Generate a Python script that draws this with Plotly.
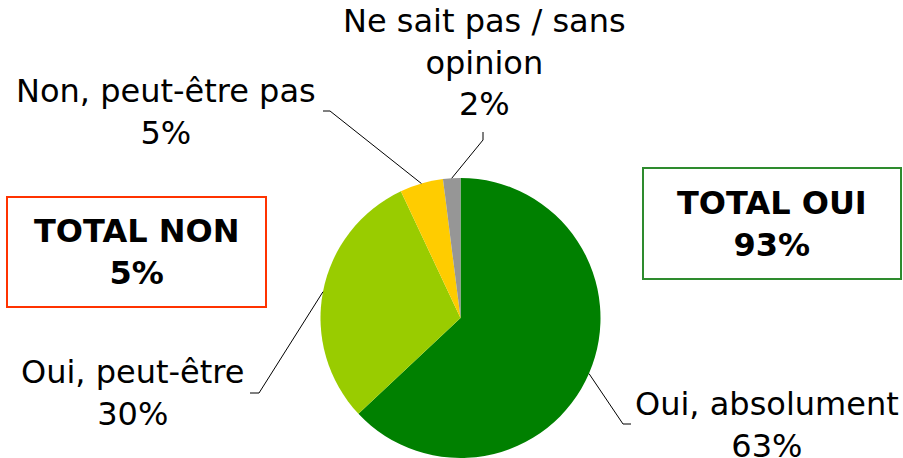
import math
import plotly.graph_objects as go

# ---- data ----
categories = ["Oui, absolument", "Oui, peut-être", "Non, peut-être pas", "Ne sait pas / sans<br>opinion"]
values = [63, 30, 5, 2]
colors = ["#008000", "#99CC00", "#FFCC00", "#969696"]
total_oui = "TOTAL OUI<br>93%"
total_non = "TOTAL NON<br>5%"

# ---- layout (pixels) ----
W, H = 903, 458
CX, CY, R = 460.5, 318.0, 140.0
FONT = "DejaVu Sans, Verdana, sans-serif"
FS = 32

def px(x):
    return x / W

def py(y):
    return 1 - y / H

# label layout: (elbow x, elbow y, end x, end y, text center x, text center y)
label_layout = [
    (623, 424, 631, 424, 767, 425),
    (259, 393, 250, 393, 132, 393),
    (330, 111, 323, 111, 166, 112),
    (483, 140, 483, 132, 484, 63),
]

fig = go.Figure()
fig.add_trace(go.Pie(
    labels=categories,
    values=values,
    marker=dict(colors=colors, line=dict(width=0)),
    sort=False,
    direction="clockwise",
    rotation=0,
    textinfo="none",
    hoverinfo="label+percent",
    showlegend=False,
    domain=dict(x=[px(CX - R), px(CX + R)], y=[py(CY + R), py(CY - R)]),
))

shapes = []
annotations = []
total = sum(values)
cum = 0
for cat, v, lay in zip(categories, values, label_layout):
    mid = (cum + v / 2) / total * 2 * math.pi
    cum += v
    sx = CX + R * math.sin(mid)
    sy = CY - R * math.cos(mid)
    ex, ey, tx, ty, lx, ly = lay
    path = f"M {px(sx)},{py(sy)} L {px(ex)},{py(ey)} L {px(tx)},{py(ty)}"
    shapes.append(dict(type="path", xref="paper", yref="paper", path=path,
                       line=dict(color="#000000", width=1)))
    annotations.append(dict(
        xref="paper", yref="paper", x=px(lx), y=py(ly),
        xanchor="center", yanchor="middle", showarrow=False,
        text=f"{cat}<br>{v}%", align="center",
        font=dict(family=FONT, size=FS, color="#000000"),
    ))

# total boxes
shapes.append(dict(type="rect", xref="paper", yref="paper",
                   x0=px(7), x1=px(266), y0=py(307), y1=py(197),
                   line=dict(color="#FF3300", width=2)))
shapes.append(dict(type="rect", xref="paper", yref="paper",
                   x0=px(643), x1=px(901), y0=py(279), y1=py(168),
                   line=dict(color="#2E8B2E", width=2)))
annotations.append(dict(xref="paper", yref="paper", x=px(136.5), y=py(252),
                        xanchor="center", yanchor="middle", showarrow=False,
                        text=f"<b>{total_non}</b>", align="center",
                        font=dict(family=FONT, size=FS, color="#000000")))
annotations.append(dict(xref="paper", yref="paper", x=px(772), y=py(224),
                        xanchor="center", yanchor="middle", showarrow=False,
                        text=f"<b>{total_oui}</b>", align="center",
                        font=dict(family=FONT, size=FS, color="#000000")))

fig.update_layout(
    width=W, height=H,
    margin=dict(l=0, r=0, t=0, b=0),
    paper_bgcolor="#FFFFFF",
    plot_bgcolor="#FFFFFF",
    shapes=shapes,
    annotations=annotations,
)

fig.write_html("out.html", config=dict(displayModeBar=False),
               post_script="document.body.style.margin='0px';document.body.style.overflow='hidden';")
